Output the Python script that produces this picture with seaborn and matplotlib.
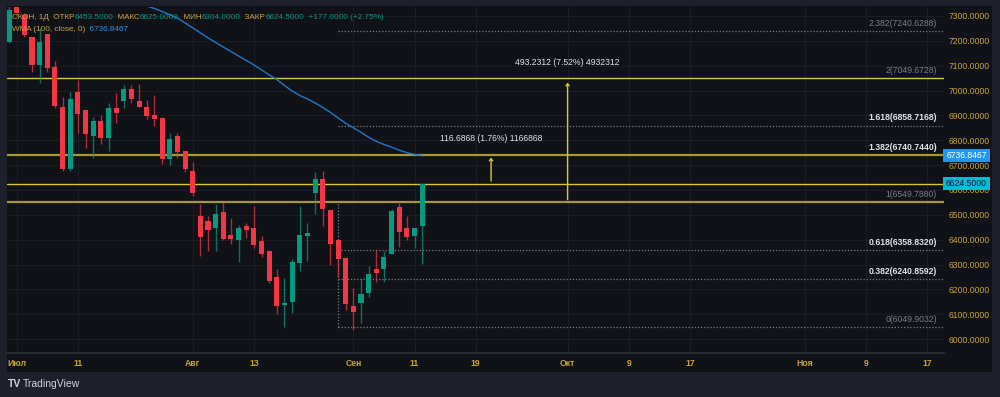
import numpy as np
import pandas as pd
import seaborn as sns
import matplotlib.pyplot as plt
from matplotlib.patches import Rectangle
from matplotlib.transforms import blended_transform_factory

# daily candles, bar index 0 = 1 Jul
bar_idx = list(range(-1, 54))
opens = [7195, 7360, 7304, 7216, 7103, 7228, 7095, 6934, 6684, 6994, 6922, 6817, 6877, 6809, 6930,
         6958, 7006, 6958, 6934, 6902, 6890, 6725, 6817, 6757, 6676, 6495, 6475, 6447, 6511, 6419,
         6399, 6455, 6447, 6395, 6354, 6250, 6137, 6149, 6306, 6415, 6588, 6644, 6519, 6399, 6326,
         6133, 6145, 6185, 6282, 6282, 6342, 6531, 6447, 6415, 6453.5]
highs = [7345, 7380, 7310, 7216, 7252, 7228, 7119, 6974, 6994, 7042, 6922, 6894, 6902, 6950, 6990,
         7022, 7022, 7026, 6962, 6982, 6894, 6829, 6829, 6757, 6712, 6543, 6495, 6543, 6552, 6487,
         6459, 6467, 6535, 6415, 6358, 6282, 6246, 6322, 6535, 6467, 6672, 6676, 6519, 6399, 6330,
         6205, 6246, 6294, 6358, 6354, 6523, 6548, 6495, 6447, 6625]
lows = [7190, 7300, 7215, 7075, 7030, 7075, 6930, 6676, 6676, 6829, 6769, 6729, 6785, 6757, 6869,
        6930, 6950, 6934, 6886, 6857, 6704, 6700, 6729, 6672, 6576, 6334, 6354, 6354, 6399, 6383,
        6310, 6407, 6366, 6330, 6226, 6101, 6049, 6105, 6274, 6314, 6503, 6455, 6298, 6250, 6117,
        6036, 6065, 6169, 6230, 6230, 6342, 6370, 6399, 6366, 6304]
closes = [7324, 7312, 7224, 7103, 7195, 7091, 6938, 6684, 6966, 6906, 6825, 6877, 6809, 6930, 6910,
          7006, 6966, 6934, 6898, 6886, 6725, 6805, 6753, 6684, 6588, 6411, 6439, 6503, 6403, 6403,
          6447, 6439, 6379, 6342, 6234, 6133, 6145, 6310, 6419, 6427, 6644, 6523, 6383, 6322, 6141,
          6109, 6181, 6262, 6266, 6330, 6515, 6431, 6411, 6447, 6624.5]

wma_idx = list(range(17, 54))
wma_vals = [7340, 7330, 7318, 7305, 7292, 7272, 7252, 7232, 7212, 7193, 7175, 7157, 7139, 7121,
            7103, 7083, 7063, 7044, 7020, 6998, 6980, 6966, 6950, 6932, 6912, 6890, 6868, 6850,
            6832, 6812, 6795, 6783, 6772, 6760, 6750, 6743, 6737]

fib_ratios = ['2.382', '2', '1.618', '1.382', '1', '0.618', '0.382', '0']
fib_prices = [7240.6288, 7049.6728, 6858.7168, 6740.7440, 6549.7880, 6358.8320, 6240.8592, 6049.9032]

tick_pos = [0, 8, 23, 31, 44, 52, 60, 72, 80, 88, 103, 111, 119]
tick_lbl = ['Июл', '11', 'Авг', '13', 'Сен', '11', '19', 'Окт', '9', '17', 'Ноя', '9', '17']
price_ticks = list(range(6000, 7301, 100))

BG = '#101217'
OUTER = '#1e212b'
GOLD = '#c9a33c'
UP = '#089981'
DOWN = '#f23645'
YEL = '#dcc534'
OLIVE = '#a6992f'

sns.set_theme(style='dark')
plt.rcParams['font.family'] = ['Liberation Sans', 'DejaVu Sans']
plt.rcParams['font.size'] = 6

df = pd.DataFrame({'i': bar_idx, 'o': opens, 'h': highs, 'l': lows, 'c': closes})
wma = pd.DataFrame({'i': wma_idx, 'wma': wma_vals})

fig = plt.figure(figsize=(10, 3.97), dpi=100, facecolor=OUTER)
bg = fig.add_axes([0.007, 1 - 372 / 397, 0.985, 366 / 397])
bg.set_facecolor(BG)
bg.set_xticks([]); bg.set_yticks([])
for s in bg.spines.values():
    s.set_visible(False)

ax = fig.add_axes([0.007, 1 - 353 / 397, 0.937, 346 / 397])
ax.set_facecolor(BG)
ax.set_xlim(-1.27, 121.2)
ax.set_ylim(5944, 7336)

# grid
for p in price_ticks:
    ax.axhline(p, color='#1a1d24', lw=0.8, zorder=0)
for t in tick_pos:
    ax.axvline(t, color='#1a1d24', lw=0.8, zorder=0)

# candles
colors = [UP if c >= o else DOWN for o, c in zip(df.o, df.c)]
ax.vlines(df.i, df.l, df.h, colors=colors, lw=1, alpha=0.7, zorder=3)
body_lo = np.minimum(df.o, df.c)
body_h = np.maximum(np.abs(df.c - df.o), 6)
ax.bar(df.i, body_h, bottom=body_lo, width=0.66, color=colors, zorder=4, linewidth=0)

# wma
sns.lineplot(data=wma, x='i', y='wma', ax=ax, color='#1f78cf', lw=1, zorder=5)

# horizontal yellow lines
ax.axhline(7049.6728, color=YEL, lw=1, zorder=2)
ax.axhline(6740.7440, color=OLIVE, lw=1.6, zorder=2)
ax.axhline(6624.5, color=YEL, lw=1, zorder=2)
ax.axhline(6549.7880, color=OLIVE, lw=1.6, zorder=2)

# fib levels
fib_start = 42
bold_set = {'1.618', '1.382', '0.618', '0.382'}
for r, p in zip(fib_ratios, fib_prices):
    if r not in ('2', '1.382', '1'):
        ax.plot([fib_start, 121.2], [p, p], color='#7a7d86', lw=0.9, ls=(0, (1, 1.5)), zorder=2)
    strong = r in bold_set
    ax.annotate(f'{r}({p:.4f})', xy=(120.3, p), xytext=(0, 5.5), textcoords='offset points',
                ha='right', va='center', fontsize=6.2,
                color='#e0e3eb' if strong else '#7a7d86',
                fontweight='bold' if strong else 'normal', zorder=6)
ax.plot([fib_start, fib_start], [6049.9032, 6549.7880], color='#7a7d86', lw=0.9,
        ls=(0, (1, 1.5)), zorder=2)

# measurements
for xi, p0, p1, txt, ty in [(62, 6624.5, 6741.19, '116.6868 (1.76%) 1166868', 6805),
                            (72, 6549.788, 7043.02, '493.2312 (7.52%) 4932312', 7111)]:
    ax.annotate('', xy=(xi, p1), xytext=(xi, p0),
                arrowprops=dict(arrowstyle='->,head_length=0.25,head_width=0.2', color=YEL, lw=1),
                zorder=6)
    ax.text(xi, ty, txt, ha='center', va='center', color='#e0e3eb', fontsize=6.2, zorder=6)

# axes styling
ax.yaxis.tick_right()
ax.set_yticks(price_ticks)
ax.set_yticklabels([f'{p:.4f}' for p in price_ticks], color=GOLD, fontsize=6.2)
ax.set_xticks(tick_pos)
ax.set_xticklabels(tick_lbl, color=GOLD, fontsize=6.2, fontweight='bold')
ax.tick_params(axis='both', length=0)
ax.tick_params(axis='y', pad=3)
ax.tick_params(axis='x', pad=4.5)
ax.set_xlabel('')
ax.set_ylabel('')
for k, s in ax.spines.items():
    s.set_visible(k == 'bottom')
ax.spines['bottom'].set_color('#2a2e39')
ax.grid(False)

# price boxes on the right axis
tr = blended_transform_factory(ax.transAxes, ax.transData)
for price, fc, tc, label in [(6736.8467, '#2196f3', 'white', '6736.8467'),
                             (6624.5, '#00bcd4', '#131722', '6624.5000')]:
    ax.add_patch(Rectangle((0.9989, price - 26), 0.0505, 52, transform=tr, facecolor=fc,
                           edgecolor='none', clip_on=False, zorder=8))
    ax.text(1.024, price, label, transform=tr, ha='center', va='center', color=tc,
            fontsize=6.2, clip_on=False, zorder=9)

# legend
def chain(parts, x, y, fs=5.9):
    t = ax.text(x, y, parts[0][0], color=parts[0][1], transform=ax.transAxes,
                va='center', ha='left', fontsize=fs, zorder=10)
    for s, c in parts[1:]:
        t = ax.annotate(s, xy=(1, 0.5), xycoords=t, va='center', ha='left',
                        color=c, fontsize=fs, zorder=10)

chain([('СКОН, 1Д  ОТКР', GOLD), ('6453.5000', UP), ('  МАКС', GOLD), ('6625.0000', UP),
       ('  МИН', GOLD), ('6304.0000', UP), ('  ЗАКР', GOLD), ('6624.5000', UP),
       ('  +177.0000 (+2.75%)', UP)], 0.0053, 0.971)
chain([('WMA (100, close, 0)', GOLD), ('  6736.8467', '#2196f3')], 0.0053, 0.935)

fig.text(0.008, 1 - 384 / 397, 'TV', color='#d1d4dc', fontsize=7.5, fontweight='bold',
         va='center', ha='left')
fig.text(0.023, 1 - 384 / 397, 'TradingView', color='#d1d4dc', fontsize=7.5,
         va='center', ha='left')

fig.savefig('out.png', dpi=100, facecolor=OUTER)
